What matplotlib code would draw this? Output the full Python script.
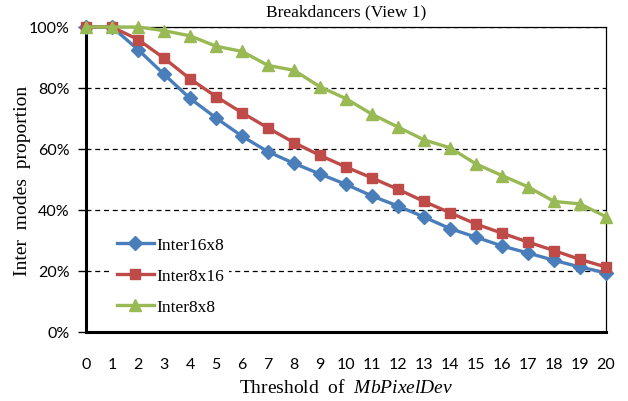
import matplotlib
matplotlib.use("Agg")
import matplotlib.pyplot as plt
from matplotlib.ticker import FuncFormatter

# threshold values on the x axis
thresholds = list(range(21))

# proportion of inter modes (%)
inter16x8 = [100, 100, 92.6, 84.5, 76.6, 70.2, 64.2, 59.1, 55.3, 51.8, 48.4,
             44.6, 41.3, 37.7, 33.9, 31.1, 28.2, 25.9, 23.5, 21.3, 19.4]
inter8x16 = [100, 100, 95.9, 89.8, 83.0, 77.2, 71.9, 66.9, 62.1, 57.9, 54.1,
             50.5, 46.8, 42.8, 39.1, 35.4, 32.4, 29.5, 26.7, 23.8, 21.3]
inter8x8 = [100, 100, 100, 98.8, 97.1, 93.7, 92.0, 87.4, 85.8, 80.4, 76.5,
            71.4, 67.2, 63.0, 60.4, 55.1, 51.3, 47.6, 42.8, 42.0, 37.8]

series_names = ["Inter16x8", "Inter8x16", "Inter8x8"]
yticks = [0, 20, 40, 60, 80, 100]

serif = "Liberation Serif"
sans = "Lato"
plt.rcParams["mathtext.fontset"] = "custom"
plt.rcParams["mathtext.it"] = "Liberation Serif:italic"
plt.rcParams["mathtext.rm"] = "Liberation Serif"

fig = plt.figure(figsize=(6.28, 4.02), dpi=100)
ax = fig.add_axes([86 / 628, 1 - 333 / 402, 520 / 628, 305 / 402])

ax.plot(thresholds, inter16x8, color="#4A7EBB", lw=2.4, marker="D", ms=7,
        label=series_names[0], zorder=5, clip_on=False)
ax.plot(thresholds, inter8x16, color="#BE4B48", lw=2.4, marker="s", ms=7.5,
        label=series_names[1], zorder=5, clip_on=False)
ax.plot(thresholds, inter8x8, color="#98B954", lw=2.4, marker="^", ms=8.5,
        label=series_names[2], zorder=5, clip_on=False)

ax.set_xlim(0, 20)
ax.set_ylim(0, 100)
ax.set_xticks(thresholds)
ax.set_yticks(yticks)
ax.yaxis.set_major_formatter(FuncFormatter(lambda v, p: "%d%%" % v))

for v in yticks[1:]:
    ax.axhline(v, color="black", lw=0.9, ls=(0, (4, 3)), zorder=1)

for side in ["left", "bottom"]:
    ax.spines[side].set_linewidth(2.2)
for side in ["top", "right"]:
    ax.spines[side].set_linewidth(0.9)

ax.tick_params(axis="y", length=6, width=1.0, direction="out", pad=6)
ax.tick_params(axis="x", length=0, pad=18)
for lbl in ax.get_xticklabels() + ax.get_yticklabels():
    lbl.set_fontfamily(sans)
    lbl.set_fontsize(11.5)

ax.set_title("Breakdancers (View 1)", fontfamily=serif, fontsize=12.5, pad=8)
ax.set_ylabel("Inter  modes  proportion", fontfamily=serif, fontsize=14, labelpad=-2)
ax.set_xlabel("Threshold  of  $\\mathit{MbPixelDev}$", fontfamily=serif,
              fontsize=14, labelpad=5)

leg = ax.legend(loc="lower left", bbox_to_anchor=(0.033, 0.01), frameon=True,
                edgecolor="none", facecolor="white", framealpha=1,
                prop={"family": serif, "size": 12.5}, handlelength=2.1,
                handletextpad=0.15, labelspacing=0.85, borderpad=0.3)
leg.set_zorder(4)

fig.savefig("out.png", dpi=100)
